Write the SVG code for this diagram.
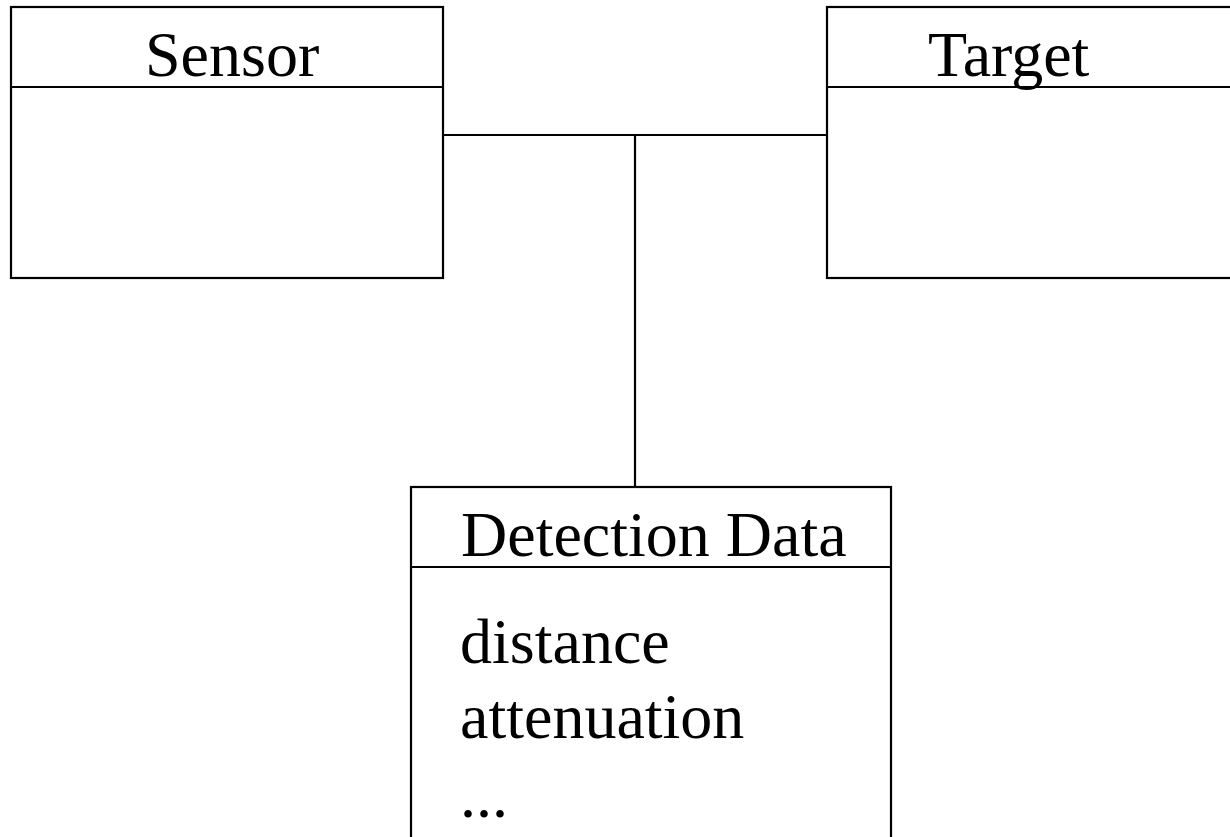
<svg xmlns="http://www.w3.org/2000/svg" width="1230" height="837" viewBox="0 0 1230 837">
<style>
.box{fill:#fff;stroke:#000;stroke-width:2.2}
.ln{fill:none;stroke:#000;stroke-width:2.2}
.t{font-family:"Liberation Serif","Times New Roman",serif;font-size:64px;fill:#000}
</style>
<rect width="1230" height="837" fill="#fff"/>
<g id="connectors">
<line class="ln" x1="443" y1="135" x2="827" y2="135"/>
<line class="ln" x1="635" y1="135" x2="635" y2="487"/>
</g>
<g id="sensor">
<rect class="box" x="11" y="7" width="432" height="271"/>
<line class="ln" x1="11" y1="87" x2="443" y2="87"/>
<text class="t" x="145" y="76">Sensor</text>
</g>
<g id="target">
<rect class="box" x="827" y="7" width="420" height="271"/>
<line class="ln" x1="827" y1="87" x2="1247" y2="87"/>
<text class="t" x="928" y="76">Target</text>
</g>
<g id="detection-data">
<rect class="box" x="411" y="487" width="480" height="370"/>
<line class="ln" x1="411" y1="567" x2="891" y2="567"/>
<text class="t" x="461" y="556">Detection Data</text>
<text class="t" x="460" y="663">distance</text>
<text class="t" x="460" y="738">attenuation</text>
<text class="t" x="460" y="817">...</text>
</g>
</svg>
